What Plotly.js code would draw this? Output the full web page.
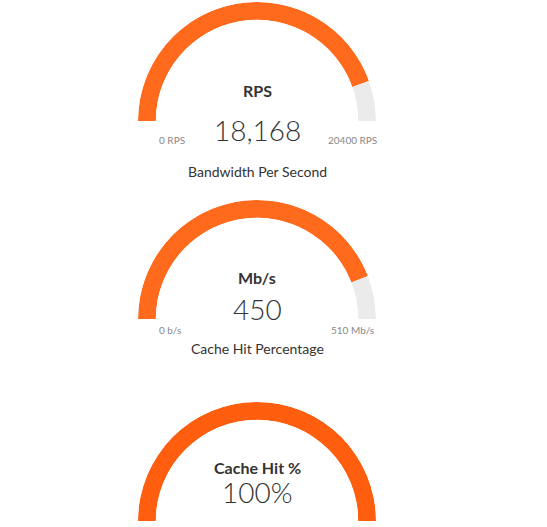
<!DOCTYPE html>
<html><head><meta charset="utf-8">
<script src="https://cdn.plot.ly/plotly-3.0.1.min.js"></script>
<style>html,body{margin:0;padding:0;background:#fff;}</style>
</head><body>
<div id="chart" style="width:547px;height:527px"></div>
<script>
// gauge data
const labels = ['RPS', 'Mb/s', 'Cache Hit %'];
const values = [18168, 450, 100];
const maxValues = [20400, 510, 100];
const valueText = ['18,168', '450', '100%'];
const minText = ['0 RPS', '0 b/s', ''];
const maxText = ['20400 RPS', '510 Mb/s', ''];
const subtitles = ['Bandwidth Per Second', 'Cache Hit Percentage', ''];
const fillColors = ['#FF6A1C', '#FF6A1C', '#FF5E0E'];

const W = 547, H = 527;
const px = y => 1 - y / H;
const left = 138, right = 376, cx = (left + right) / 2;
const tops = [2, 200, 402];
const R = (right - left) / 2;

const data = [], annotations = [];
const layout = {
  width: W, height: H, margin: { t: 0, r: 0, b: 0, l: 0 },
  paper_bgcolor: '#fff', showlegend: false,
  font: { family: 'Lato, sans-serif', color: '#333' },
};

labels.forEach((lab, i) => {
  const key = i === 0 ? 'polar' : 'polar' + (i + 1);
  const frac = values[i] / maxValues[i];
  const span = 180 * frac;
  data.push({
    type: 'barpolar', subplot: key, hoverinfo: 'skip',
    r: [1, 1], theta: [180 - span / 2, (180 - span) / 2], width: [span, 180 - span],
    marker: { color: [fillColors[i], '#EBEBEB'], line: { width: 0 } },
  });
  const top = tops[i], bottom = top + R;
  layout[key] = {
    domain: { x: [left / W, right / W], y: [px(bottom), px(top)] },
    sector: [0, 180], hole: 0.85, bgcolor: 'rgba(0,0,0,0)',
    radialaxis: { visible: false, range: [0, 1] },
    angularaxis: { visible: false },
  };
  const add = (text, y, size, color, weight) => annotations.push({
    xref: 'paper', yref: 'paper', x: cx / W, y: px(y), text, showarrow: false,
    font: { size, color, weight: weight || 'normal' },
  });
  add(lab, bottom - 42, 16, '#333', 'bold');
  add(valueText[i], bottom - 10, 28, '#333', 300);
  if (subtitles[i]) add(subtitles[i], bottom + 40, 14, '#333');
  if (minText[i]) annotations.push({ xref: 'paper', yref: 'paper', x: (left + 19) / W, y: px(bottom + 11),
    text: minText[i], showarrow: false, font: { size: 10, color: '#888' } });
  if (maxText[i]) annotations.push({ xref: 'paper', yref: 'paper', x: (right - 24) / W, y: px(bottom + 11),
    text: maxText[i], showarrow: false, font: { size: 10, color: '#888' } });
});
layout.annotations = annotations;

Plotly.newPlot('chart', data, layout, { displayModeBar: false, staticPlot: true });
</script>
</body></html>
